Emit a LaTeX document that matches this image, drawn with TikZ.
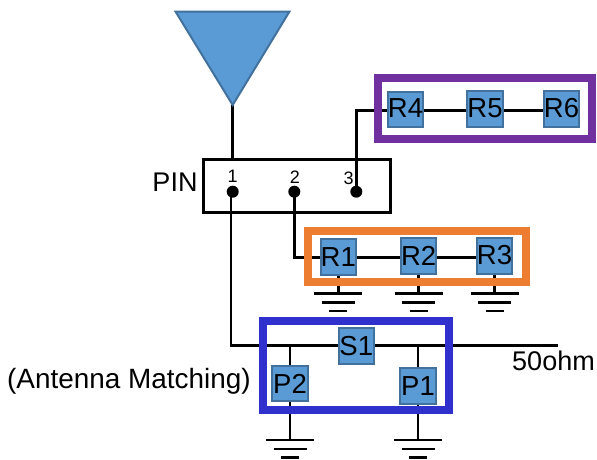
\documentclass[tikz,border=0pt]{standalone}
\usepackage{fontspec}
\setmainfont{Liberation Sans}
\usetikzlibrary{backgrounds}
\definecolor{boxfill}{HTML}{5B9BD5}
\definecolor{boxline}{HTML}{41719C}
\definecolor{framepurple}{HTML}{7030A0}
\definecolor{frameorange}{HTML}{ED7D31}
\definecolor{frameblue}{HTML}{3030CC}
\tikzset{
  part/.style={draw=boxline,fill=boxfill,line width=2pt,minimum size=35.5pt,inner sep=0pt,font=\fontsize{27.5}{27.5}\selectfont},
  wire/.style={draw=black,line width=2.6pt},
  pinbox/.style={draw=black,line width=2.6pt,inner sep=0pt},
  pindot/.style={circle,fill=black,minimum size=12pt,inner sep=0pt},
  pinnum/.style={inner sep=0pt,font=\fontsize{18}{18}\selectfont},
  label/.style={inner sep=0pt,font=\fontsize{27}{27}\selectfont},
  amlabel/.style={inner sep=0pt,font=\fontsize{27.9}{27.9}\selectfont},
  frame/.style={line width=8pt,miter limit=10}
}
\newcommand{\grnd}[2]{% node, bar-top y
  \coordinate (g#1) at (#1.south |- 0,#2);
  \begin{pgfonlayer}{background}\draw[wire] (#1.south) -- (g#1);\end{pgfonlayer}
  \draw[wire] ([xshift=-24pt]g#1) -- ([xshift=24pt]g#1);
  \draw[wire] ([xshift=-16.5pt,yshift=-9pt]g#1) -- ([xshift=16.5pt,yshift=-9pt]g#1);
  \draw[wire] ([xshift=-9pt,yshift=-17.7pt]g#1) -- ([xshift=9pt,yshift=-17.7pt]g#1);
}
\begin{document}
\begin{tikzpicture}[x=1pt,y=-1pt]
\useasboundingbox (0,0) rectangle (597,459);
% antenna
\coordinate (ant) at (232.7,105);
\draw[boxline,fill=boxfill,line width=2pt,line join=miter] (175.5,11.5) -- (289.5,11.5) -- (ant) -- cycle;
% connector
\node[pinbox,minimum width=187.4pt,minimum height=53.4pt] (pin) at (297,186) {};
\node[pindot] (d1) at (232.7,191.7) {};
\node[pindot] (d2) at (294.3,191.7) {};
\node[pindot] (d3) at (356.3,191.7) {};
\node[pinnum] (n1) at (232.7,176) {1};
\node[pinnum] (n2) at (295,177) {2};
\node[pinnum] (n3) at (348.7,178) {3};
\node[label] (pinlab) at (175,182.5) {PIN};
% parts
\node[part] (R4) at (405.5,109.5) {\raisebox{2pt}{R4}};
\node[part] (R5) at (485,109) {\raisebox{1.3pt}{R5}};
\node[part] (R6) at (561.5,109) {\raisebox{3pt}{R6}};
\node[part] (R1) at (338.3,257) {R1};
\node[part] (R2) at (418.7,256) {R2};
\node[part] (R3) at (494.5,256) {\raisebox{2.7pt}{R3}};
\node[part] (S1) at (356.3,346) {S1};
\node[part] (P2) at (290,383.5) {P2};
\node[part] (P1) at (418,386) {P1};
\node[label] (ohm) at (553.5,361) {50ohm};
\node[amlabel,anchor=west] (am) at (7,381.5) {(Antenna Matching)};
\coordinate (wend) at (558,345.7);
\coordinate (pw) at (0,110.7);
\coordinate (rw) at (0,257.7);
% wires
\begin{pgfonlayer}{background}
\draw[wire] (ant) -- (pin.north -| ant);
\draw[wire] (d3.center) |- (R4.west |- pw);
\draw[wire] (R4.east |- pw) -- (R5.west |- pw);
\draw[wire] (R5.east |- pw) -- (R6.west |- pw);
\draw[wire] (d2.center) |- (R1.west |- rw);
\draw[wire] (R1.east |- rw) -- (R2.west |- rw);
\draw[wire] (R2.east |- rw) -- (R3.west |- rw);
\draw[wire] ([xshift=-1.7pt]d1.center) |- (S1.west |- wend);
\draw[wire] (S1.east |- wend) -- (wend);
\draw[wire] (P2.north) -- (P2.north |- wend);
\draw[wire] (P1.north) -- (P1.north |- wend);
\end{pgfonlayer}
% grounds
\grnd{R1}{293.3}
\grnd{R2}{293.3}
\grnd{R3}{293.3}
\grnd{P2}{440}
\grnd{P1}{440}
% frames
\draw[frame,framepurple] (378,77.5) rectangle (592,138.5);
\draw[frame,frameorange] (308,230.5) rectangle (526,282);
\draw[frame,frameblue] (263.3,320.7) rectangle (449.3,410);
\end{tikzpicture}
\end{document}
